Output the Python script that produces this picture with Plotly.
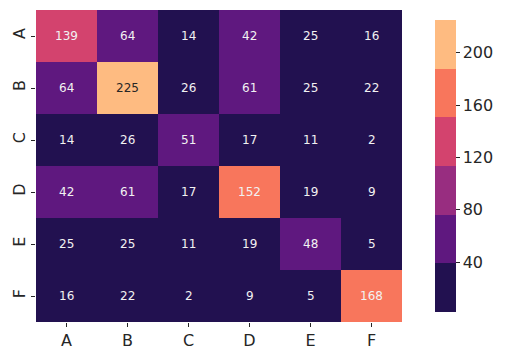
import plotly.graph_objects as go

# Confusion-matrix counts (rows = actual, columns = predicted)
labels = ["A", "B", "C", "D", "E", "F"]
counts = [
    [139, 64, 14, 42, 25, 16],
    [64, 225, 26, 61, 25, 22],
    [14, 26, 51, 17, 11, 2],
    [42, 61, 17, 152, 19, 9],
    [25, 25, 11, 19, 48, 5],
    [16, 22, 2, 9, 5, 168],
]
cbar_ticks = [40, 80, 120, 160, 200]

# six-step magma palette
palette = ["#221150", "#5f187f", "#982d80", "#d3436e", "#f8765c", "#febb81"]
n = len(palette)
colorscale = []
for i, c in enumerate(palette):
    colorscale.append([i / n, c])
    colorscale.append([(i + 1) / n, c])

zmin = min(min(r) for r in counts)
zmax = max(max(r) for r in counts)
bin_w = (zmax - zmin) / n

fig = go.Figure(
    go.Heatmap(
        z=counts,
        x=labels,
        y=labels,
        zmin=zmin,
        zmax=zmax,
        colorscale=colorscale,
        xgap=0,
        ygap=0,
        hoverinfo="skip",
        colorbar=dict(
            thickness=21,
            len=1.0,
            lenmode="fraction",
            x=1.064,
            xanchor="left",
            xref="paper",
            y=0.5,
            yanchor="middle",
            outlinewidth=0,
            tickvals=cbar_ticks,
            ticks="outside",
            ticklen=4,
            tickwidth=1,
            tickcolor="#262626",
            tickfont=dict(family="DejaVu Sans", size=16, color="#262626"),
        ),
    )
)

# cell annotations: light text on dark cells, dark text on the brightest bin
annotations = []
for r, row in enumerate(counts):
    for c, v in enumerate(row):
        light = v >= zmax - bin_w
        annotations.append(
            dict(
                x=labels[c],
                y=labels[r],
                xref="x",
                yref="y",
                text=str(v),
                showarrow=False,
                font=dict(
                    family="DejaVu Sans",
                    size=12,
                    color="#262626" if light else "#f2f2f2",
                ),
            )
        )

fig.update_layout(
    width=514,
    height=360,
    margin=dict(l=35, r=89, t=10, b=20),
    paper_bgcolor="white",
    plot_bgcolor="white",
    annotations=annotations,
    font=dict(family="DejaVu Sans", color="#262626"),
)
fig.update_xaxes(
    showgrid=False,
    zeroline=False,
    ticks="outside",
    ticklen=4,
    tickwidth=1,
    tickcolor="#262626",
    tickfont=dict(size=16),
)
fig.update_yaxes(
    showgrid=False,
    zeroline=False,
    autorange="reversed",
    ticks="outside",
    ticklen=4,
    tickwidth=1,
    tickcolor="#262626",
    tickangle=-90,
    tickfont=dict(size=16),
)

fig.write_html("out.html")
